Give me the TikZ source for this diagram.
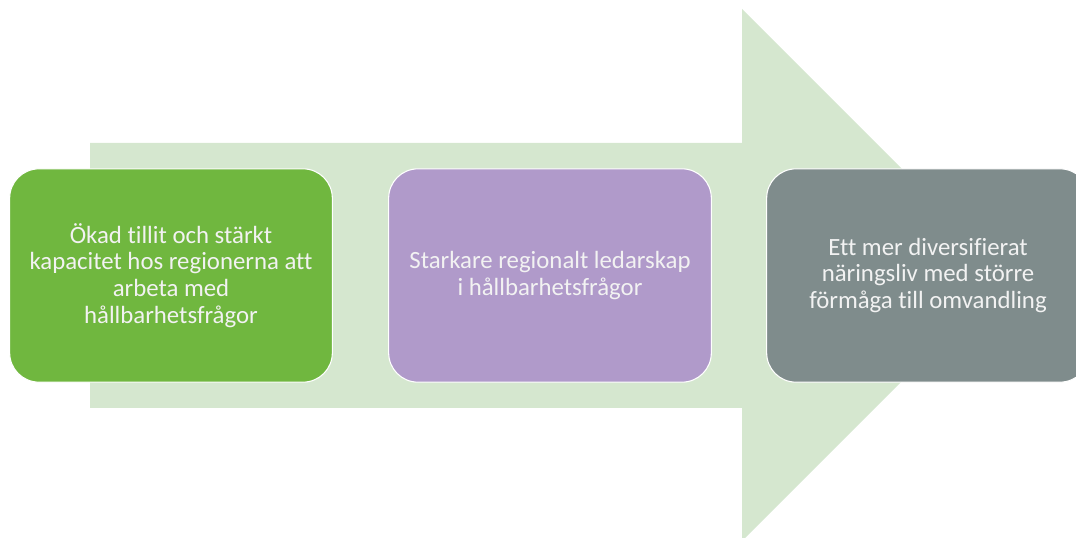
\documentclass[tikz,border=0pt]{standalone}
\usepackage{fontspec}
\setmainfont{Carlito}[Ligatures=NoCommon]
\definecolor{arrowgreen}{HTML}{D5E7CF}
\definecolor{boxgreen}{HTML}{70B73F}
\definecolor{boxpurple}{HTML}{B09ACA}
\definecolor{boxgray}{HTML}{7F8C8C}
\tikzset{stepbox/.style={draw=white,line width=0.8pt,rounded corners=22pt,
           minimum width=242pt,minimum height=160pt,align=center,
           text=white!95!black,font=\fontsize{18.6}{20}\selectfont,inner sep=0pt}
}
\begin{document}
\begin{tikzpicture}[x=0.75pt,y=-0.75pt]
  \useasboundingbox (0,0) rectangle (1076,538);
  % big arrow behind the boxes
  \fill[arrowgreen](90,143)--(742,143)--(742,9)--(1008,275)--(742,541)--(742,408)--(90,408)--cycle;
  \node[stepbox,fill=boxgreen] (tillit) at (171,275.5)
     {Ökad tillit och stärkt\\kapacitet hos regionerna att\\arbeta med\\hållbarhetsfrågor};
  \node[stepbox,fill=boxpurple] (ledarskap) at (550,275.5)
     {Starkare regionalt ledarskap\\i hållbarhetsfrågor};
  \node[stepbox,fill=boxgray] (naringsliv) at (928,275.5)
     {Ett mer diversifierat\\näringsliv med större\\förmåga till omvandling};
\end{tikzpicture}
\end{document}
